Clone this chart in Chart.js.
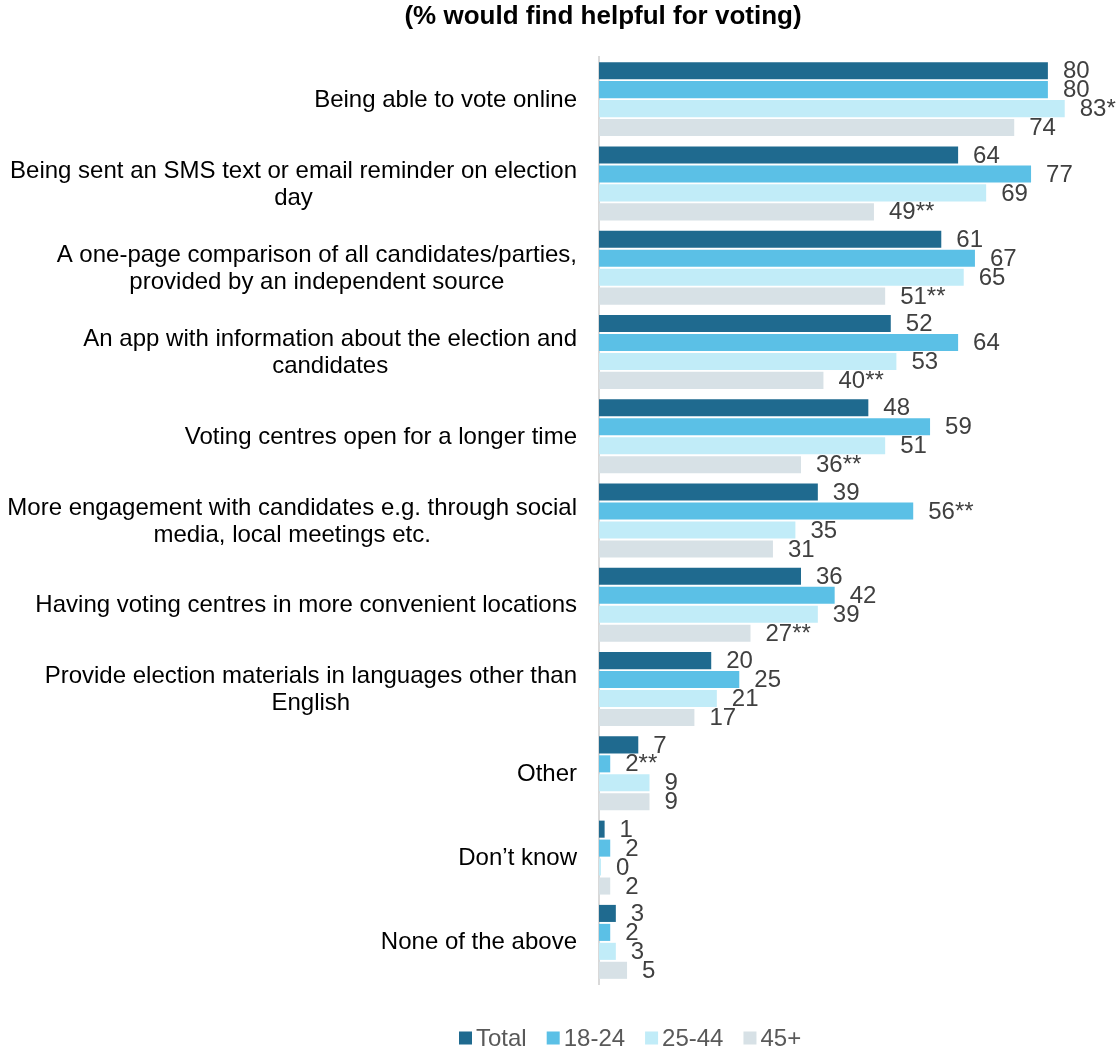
<!DOCTYPE html>
<html>
<head>
<meta charset="utf-8">
<title>Helpful for voting</title>
<script src="https://cdn.jsdelivr.net/npm/chart.js@4.4.1/dist/chart.umd.min.js"></script>
<style>
  html, body { margin: 0; padding: 0; background: #fff; }
  #wrap { position: relative; width: 1117px; height: 1049px; }
</style>
</head>
<body>
<div id="wrap"><canvas id="chart"></canvas></div>
<script>
const FONT = "'Liberation Sans', Arial, Helvetica, sans-serif";
const TITLE = '(% would find helpful for voting)';

// one entry per row, multi-line rows are split where the text wraps
const categories = [
  'Being able to vote online',
  ['Being sent an SMS text or email reminder on election', 'day'],
  ['A one-page comparison of all candidates/parties,', 'provided by an independent source'],
  ['An app with information about the election and', 'candidates'],
  'Voting centres open for a longer time',
  ['More engagement with candidates e.g. through social', 'media, local meetings etc.'],
  'Having voting centres in more convenient locations',
  ['Provide election materials in languages other than', 'English'],
  'Other',
  'Don\u2019t know',
  'None of the above'
];

const seriesNames = ['Total', '18-24', '25-44', '45+'];
const total   = [80, 64, 61, 52, 48, 39, 36, 20, 7, 1, 3];
const age1824 = [80, 77, 67, 64, 59, 56, 42, 25, 2, 2, 2];
const age2544 = [83, 69, 65, 53, 51, 35, 39, 21, 9, 0, 3];
const age45   = [74, 49, 51, 40, 36, 31, 27, 17, 9, 2, 5];

// significance markers appended to the value labels
const markTotal = ['', '', '', '', '', '', '', '', '', '', ''];
const mark1824  = ['', '', '', '', '', '**', '', '', '**', '', ''];
const mark2544  = ['*', '', '', '', '', '', '', '', '', '', ''];
const mark45    = ['', '**', '**', '**', '**', '', '**', '', '', '', ''];

const colors = ['#1F6A8F', '#5BC0E6', '#C1ECF8', '#D7E1E6'];

const mk = (i, data, marks) => ({
  label: seriesNames[i], data, marks,
  backgroundColor: colors[i],
  barPercentage: 0.9, categoryPercentage: 0.9, minBarLength: 2
});

// value labels just past the end of each bar
const valueLabels = {
  id: 'valueLabels',
  afterDatasetsDraw(chart){
    const ctx = chart.ctx;
    ctx.save();
    ctx.font = `24px ${FONT}`;
    ctx.fillStyle = '#404040';
    ctx.textAlign = 'left';
    ctx.textBaseline = 'middle';
    chart.data.datasets.forEach((ds, di) => {
      chart.getDatasetMeta(di).data.forEach((bar, i) => {
        ctx.fillText(ds.data[i] + (ds.marks[i] || ''), bar.x + 15, bar.y + 1);
      });
    });
    ctx.restore();
  }
};

// category text: block sits right of the axis, each line centred in its block
const rowLabels = {
  id: 'rowLabels',
  afterDraw(chart){
    const ctx = chart.ctx, sc = chart.scales.y;
    const right = chart.chartArea.left - 22, lh = 27;
    ctx.save();
    ctx.font = `24px ${FONT}`;
    ctx.fillStyle = '#000';
    ctx.textAlign = 'center';
    ctx.textBaseline = 'middle';
    chart.data.labels.forEach((lab, i) => {
      const lines = Array.isArray(lab) ? lab : [lab];
      const w = Math.max(...lines.map(l => ctx.measureText(l).width));
      const cy = sc.getPixelForValue(i);
      lines.forEach((l, k) => ctx.fillText(l, right - w / 2, cy + (k - (lines.length - 1) / 2) * lh + 1));
    });
    // heading
    ctx.font = `bold 26px ${FONT}`;
    ctx.fillText(TITLE, 603, 17);
    ctx.restore();
  }
};

// legend row under the plot
const legendRow = {
  id: 'legendRow',
  afterDraw(chart){
    const ctx = chart.ctx;
    let x = 459; const cy = 1038;
    ctx.save();
    ctx.font = `24px ${FONT}`;
    ctx.textAlign = 'left';
    ctx.textBaseline = 'middle';
    chart.data.datasets.forEach(ds => {
      ctx.fillStyle = ds.backgroundColor;
      ctx.fillRect(x, cy - 6.5, 13, 13);
      ctx.fillStyle = '#595959';
      ctx.fillText(ds.label, x + 17, cy + 1);
      x += 17 + ctx.measureText(ds.label).width + 20;
    });
    ctx.restore();
  }
};

new Chart(document.getElementById('chart'), {
  type: 'bar',
  data: {
    labels: categories,
    datasets: [
      mk(0, total, markTotal),
      mk(1, age1824, mark1824),
      mk(2, age2544, mark2544),
      mk(3, age45, mark45)
    ]
  },
  options: {
    indexAxis: 'y',
    responsive: true,
    maintainAspectRatio: false,
    animation: false,
    layout: { padding: { top: 57, bottom: 65, left: 0, right: 13 } },
    plugins: { legend: { display: false }, title: { display: false }, tooltip: { enabled: false } },
    scales: {
      x: { min: 0, max: 90, display: false },
      y: {
        grid: { display: false },
        border: { display: true, color: '#D9D9D9', width: 2 },
        ticks: { display: false },
        afterFit(scale){ scale.width = 599; }
      }
    }
  },
  plugins: [valueLabels, rowLabels, legendRow]
});
</script>
</body>
</html>
